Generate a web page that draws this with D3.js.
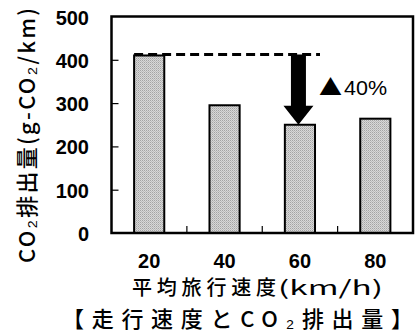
<!DOCTYPE html>
<html><head><meta charset="utf-8">
<script src="https://cdn.jsdelivr.net/npm/d3@7"></script>
<style>
html,body{margin:0;padding:0;background:#fff;}
svg{display:block;}
</style></head>
<body>
<svg id="chart" width="416" height="333"></svg>
<script>
const categories = ["20", "40", "60", "80"];
const values = [410, 295, 250, 264];
const yTicks = [0, 100, 200, 300, 400, 500];
const reductionFrom = 410;
const reductionTo = 250;
const reductionCategory = "60";
const reductionMark = "▲";
const reductionLabel = "40%";
const xTitleJp = "平均旅行速度";
const xTitleUnit = "(km/h)";
const yTitle = "CO₂排出量(g-CO₂/km)";
const chartTitle = "【走行速度とCO₂排出量】";

(function () {
const svg = d3.select("#chart");
const pL = 111.5, pR = 413, pT = 16.5, pB = 233;

const x = d3.scaleBand().domain(categories).range([pL, pR]).paddingInner(0.6).paddingOuter(0.3);
const y = d3.scaleLinear().domain([0, 500]).range([pB, pT]);

const defs = svg.append("defs");
const pat = defs.append("pattern").attr("id", "dots").attr("patternUnits", "userSpaceOnUse")
  .attr("width", 2).attr("height", 2);
pat.append("rect").attr("width", 2).attr("height", 2).attr("fill", "#d8d8d8");
pat.append("rect").attr("width", 1).attr("height", 1).attr("fill", "#a4a4a4");
pat.append("rect").attr("x", 1).attr("y", 1).attr("width", 1).attr("height", 1).attr("fill", "#bcbcbc");

const numFont = "'Liberation Sans', Arial, sans-serif";
const jpFont = "'Noto Sans CJK JP', sans-serif";

svg.append("g").selectAll("rect").data(values).join("rect")
  .attr("x", (d, i) => x(categories[i]))
  .attr("y", d => y(d))
  .attr("width", x.bandwidth())
  .attr("height", d => y(0) - y(d))
  .attr("fill", "url(#dots)")
  .attr("stroke", "#000")
  .attr("stroke-width", 2);

const yAxis = d3.axisRight(y).tickValues(yTicks.filter(t => t > 0 && t < 500)).tickSize(7).tickFormat("");
const gy = svg.append("g").attr("transform", `translate(${pL},0)`).call(yAxis);
gy.select(".domain").remove();
gy.selectAll("line").attr("stroke", "#000").attr("stroke-width", 1.2);

svg.append("g").selectAll("text").data(yTicks).join("text")
  .attr("x", 89).attr("y", d => y(d) + 8)
  .attr("text-anchor", "end")
  .attr("font-family", numFont).attr("font-size", 20).attr("font-weight", "bold")
  .text(d => d);

const bounds = categories.slice(1).map(c => x(c) - (x.step() - x.bandwidth()) / 2);
svg.append("g").selectAll("line").data(bounds).join("line")
  .attr("x1", d => d).attr("x2", d => d)
  .attr("y1", pB).attr("y2", pB - 7)
  .attr("stroke", "#000").attr("stroke-width", 1.2);

svg.append("g").selectAll("text").data(categories).join("text")
  .attr("x", d => x(d) + x.bandwidth() / 2).attr("y", 268)
  .attr("text-anchor", "middle")
  .attr("font-family", numFont).attr("font-size", 20).attr("font-weight", "bold")
  .text(d => d);

svg.append("rect").attr("x", pL).attr("y", pT)
  .attr("width", pR - pL).attr("height", pB - pT)
  .attr("fill", "none").attr("stroke", "#000").attr("stroke-width", 2.5);

svg.append("line")
  .attr("x1", x(categories[0])).attr("x2", 320)
  .attr("y1", y(reductionFrom) - 1).attr("y2", y(reductionFrom) - 1)
  .attr("stroke", "#000").attr("stroke-width", 3).attr("stroke-dasharray", "9,5");

const ax = x(reductionCategory) + x.bandwidth() / 2 - 1.5;
const y0 = y(reductionFrom) - 1, y1 = y(reductionTo);
const headH = 19, shaftW = 7.5, headW = 15;
svg.append("path")
  .attr("d", `M${ax - shaftW},${y0} L${ax + shaftW},${y0} L${ax + shaftW},${y1 - headH} L${ax + headW},${y1 - headH} L${ax},${y1} L${ax - headW},${y1 - headH} L${ax - shaftW},${y1 - headH} Z`)
  .attr("fill", "#000");

svg.append("text").attr("x", 319).attr("y", 95)
  .attr("font-family", jpFont).attr("font-size", 22)
  .attr("textLength", 23).attr("lengthAdjust", "spacingAndGlyphs")
  .text(reductionMark);
svg.append("text").attr("x", 344).attr("y", 95)
  .attr("font-family", numFont).attr("font-size", 21)
  .attr("textLength", 43).attr("lengthAdjust", "spacingAndGlyphs")
  .text(reductionLabel);

svg.append("text").attr("x", 132).attr("y", 295)
  .attr("font-family", jpFont).attr("font-size", 20).attr("font-weight", 500)
  .attr("textLength", 144).attr("lengthAdjust", "spacing")
  .text(xTitleJp);
svg.append("text").attr("x", 278).attr("y", 295)
  .attr("font-family", jpFont).attr("font-size", 20).attr("font-weight", 400)
  .attr("textLength", 105).attr("lengthAdjust", "spacingAndGlyphs")
  .text(xTitleUnit);

svg.append("text").attr("transform", "translate(35,263) rotate(-90)")
  .attr("font-family", jpFont).attr("font-size", 22).attr("font-weight", 500)
  .attr("textLength", 255).attr("lengthAdjust", "spacing")
  .text(yTitle);

svg.append("text").attr("x", 62).attr("y", 327)
  .attr("font-family", jpFont).attr("font-size", 22).attr("font-weight", 500)
  .attr("textLength", 351).attr("lengthAdjust", "spacing")
  .text(chartTitle);
})();
</script>
</body></html>
